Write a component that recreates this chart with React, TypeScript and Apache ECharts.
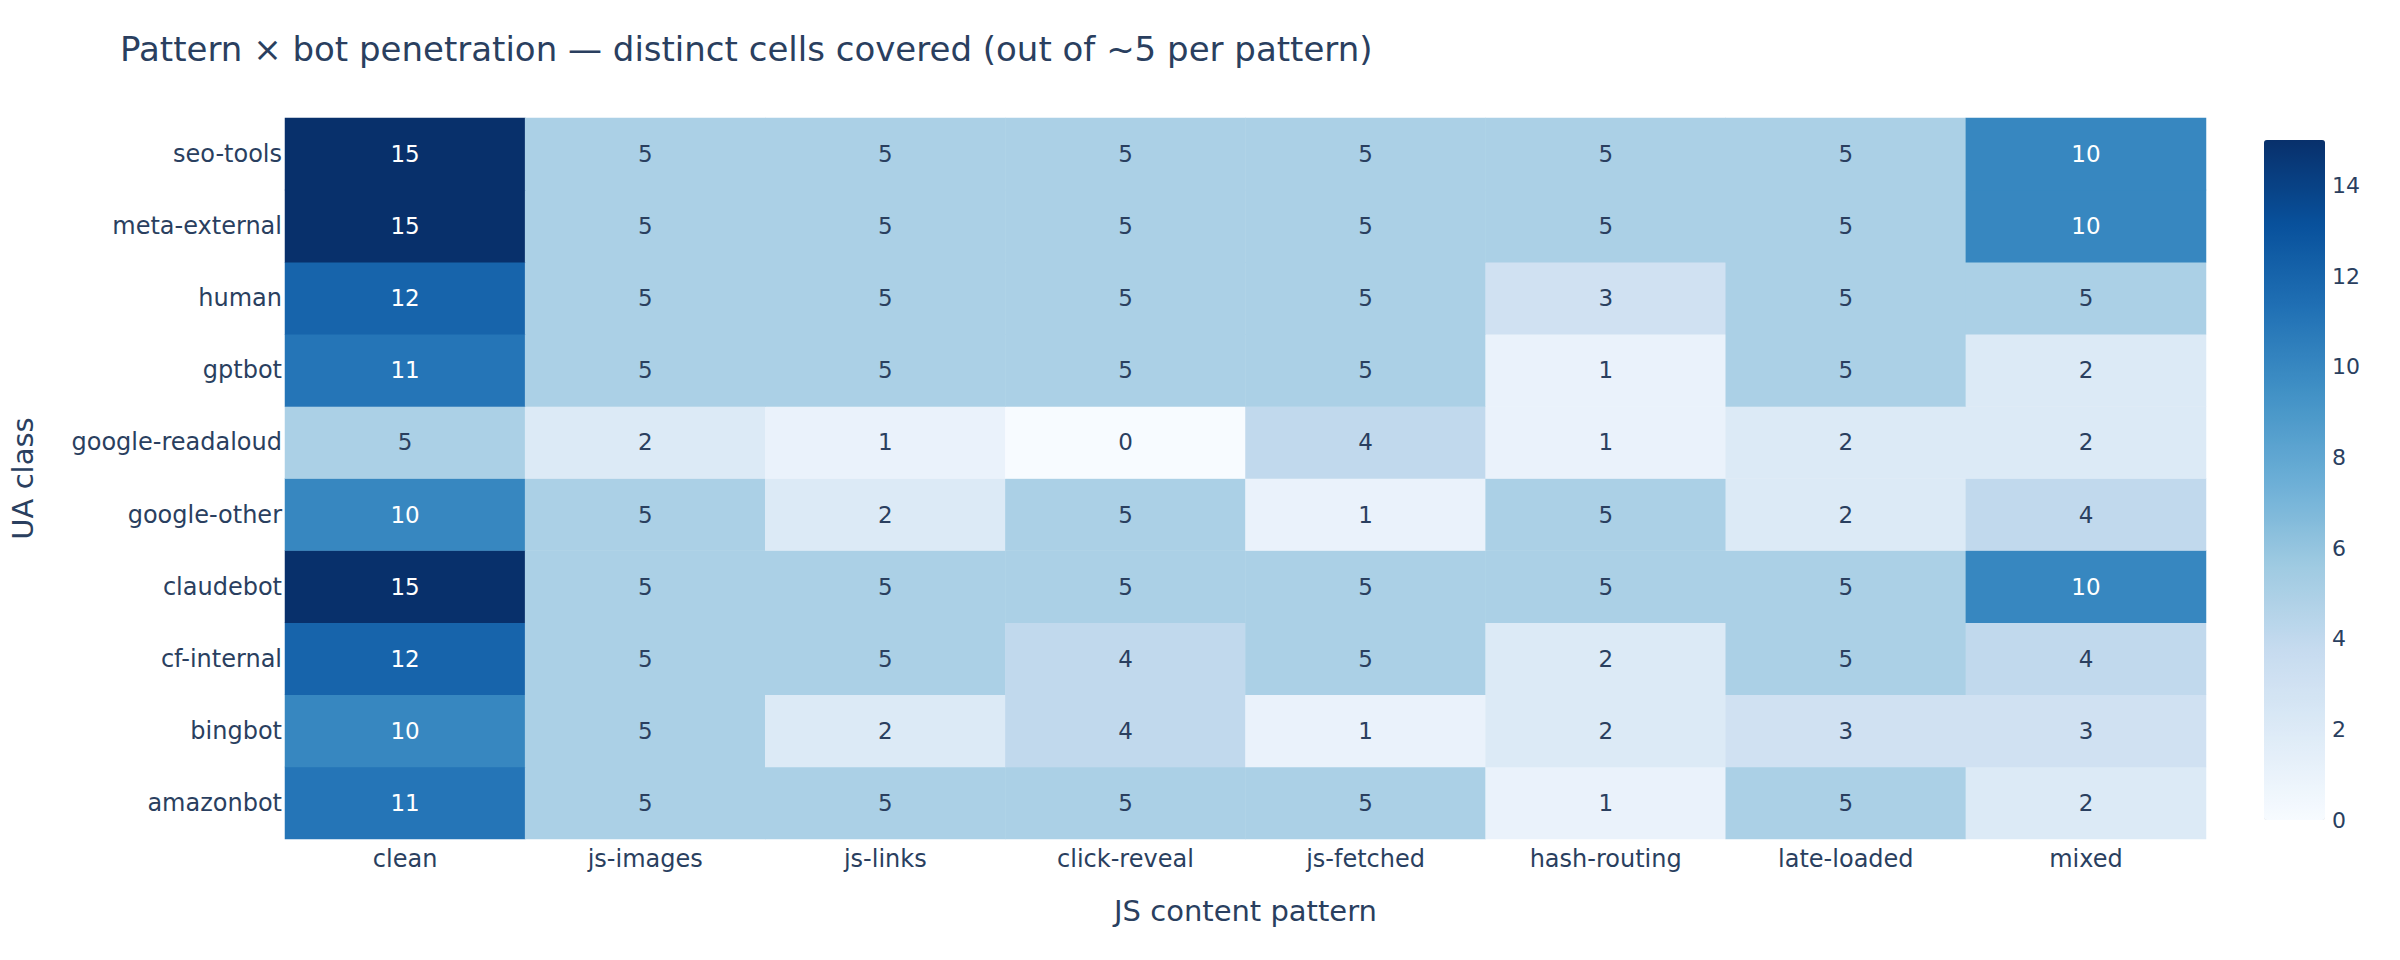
import React, { useEffect, useRef } from 'react';
import * as echarts from 'echarts';

const titleText = 'Pattern × bot penetration — distinct cells covered (out of ~5 per pattern)';
const xAxisTitle = 'JS content pattern';
const yAxisTitle = 'UA class';

const patterns = ['clean', 'js-images', 'js-links', 'click-reveal', 'js-fetched', 'hash-routing', 'late-loaded', 'mixed'];
// bottom to top
const uaClasses = ['amazonbot', 'bingbot', 'cf-internal', 'claudebot', 'google-other', 'google-readaloud', 'gptbot', 'human', 'meta-external', 'seo-tools'];

const amazonbot = [11, 5, 5, 5, 5, 1, 5, 2];
const bingbot = [10, 5, 2, 4, 1, 2, 3, 3];
const cfInternal = [12, 5, 5, 4, 5, 2, 5, 4];
const claudebot = [15, 5, 5, 5, 5, 5, 5, 10];
const googleOther = [10, 5, 2, 5, 1, 5, 2, 4];
const googleReadaloud = [5, 2, 1, 0, 4, 1, 2, 2];
const gptbot = [11, 5, 5, 5, 5, 1, 5, 2];
const human = [12, 5, 5, 5, 5, 3, 5, 5];
const metaExternal = [15, 5, 5, 5, 5, 5, 5, 10];
const seoTools = [15, 5, 5, 5, 5, 5, 5, 10];

const rows = [amazonbot, bingbot, cfInternal, claudebot, googleOther, googleReadaloud, gptbot, human, metaExternal, seoTools];

const colorMin = 0;
const colorMax = 15;
const colorbarTickStep = 2;
const blues = ['rgb(247,251,255)', 'rgb(222,235,247)', 'rgb(198,219,239)', 'rgb(158,202,225)', 'rgb(107,174,214)', 'rgb(66,146,198)', 'rgb(33,113,181)', 'rgb(8,81,156)', 'rgb(8,48,107)'];

const FONT = '"DejaVu Sans", Verdana, sans-serif';
const TEXT = '#2a3f5f';

export default function App() {
  const ref = useRef<HTMLDivElement>(null);
  useEffect(() => {
    if (!ref.current) return;
    const chart = echarts.init(ref.current, undefined, { renderer: 'svg' });
    const data: any[] = [];
    rows.forEach((row, yi) => {
      row.forEach((v, xi) => {
        data.push({
          value: [xi, yi, v],
          label: { color: v >= 8 ? '#ffffff' : TEXT },
        });
      });
    });
    chart.setOption({
      animation: false,
      backgroundColor: '#ffffff',
      textStyle: { fontFamily: FONT },
      title: {
        text: titleText,
        left: 120,
        top: 32,
        padding: 0,
        textStyle: { fontFamily: FONT, fontSize: 34, fontWeight: 'normal', color: TEXT },
      },
      grid: [
        { left: 285, right: 194, top: 118, bottom: 121, containLabel: false },
        { left: 2323, top: 140, width: 1, height: 680, containLabel: false },
      ],
      xAxis: [
        {
          type: 'category',
          data: patterns,
          gridIndex: 0,
          name: xAxisTitle,
          nameLocation: 'middle',
          nameGap: 57,
          nameTextStyle: { fontFamily: FONT, fontSize: 29, color: TEXT },
          axisLine: { show: false },
          axisTick: { show: false },
          splitLine: { show: false },
          axisLabel: { fontFamily: FONT, fontSize: 24, color: TEXT, margin: 8 },
        },
        { type: 'value', gridIndex: 1, show: false },
      ],
      yAxis: [
        {
          type: 'category',
          data: uaClasses,
          gridIndex: 0,
          name: yAxisTitle,
          nameLocation: 'middle',
          nameGap: 248,
          nameRotate: 90,
          nameTextStyle: { fontFamily: FONT, fontSize: 29, color: TEXT },
          axisLine: { show: false },
          axisTick: { show: false },
          splitLine: { show: false },
          axisLabel: { fontFamily: FONT, fontSize: 24, color: TEXT, margin: 3 },
        },
        {
          type: 'value',
          gridIndex: 1,
          position: 'right',
          min: colorMin,
          max: colorMax,
          interval: colorbarTickStep,
          axisLine: { show: false },
          axisTick: { show: false },
          splitLine: { show: false },
          axisLabel: { fontFamily: FONT, fontSize: 22, color: TEXT, margin: 8, showMaxLabel: false },
        },
      ],
      visualMap: {
        type: 'continuous',
        min: colorMin,
        max: colorMax,
        calculable: false,
        orient: 'vertical',
        left: 2264,
        top: 140,
        itemWidth: 61,
        itemHeight: 680,
        padding: 0,
        seriesIndex: 0,
        inRange: { color: blues },
        textStyle: { color: TEXT },
      },
      series: [
        {
          type: 'heatmap',
          xAxisIndex: 0,
          yAxisIndex: 0,
          data,
          label: {
            show: true,
            fontFamily: FONT,
            fontSize: 23,
            formatter: (p: any) => String(p.value[2]),
          },
          itemStyle: { borderWidth: 0 },
          emphasis: { disabled: true },
        },
      ],
    });
    return () => chart.dispose();
  }, []);
  return <div ref={ref} style={{ position: 'fixed', left: 0, top: 0, width: 2400, height: 960 }} />;
}
